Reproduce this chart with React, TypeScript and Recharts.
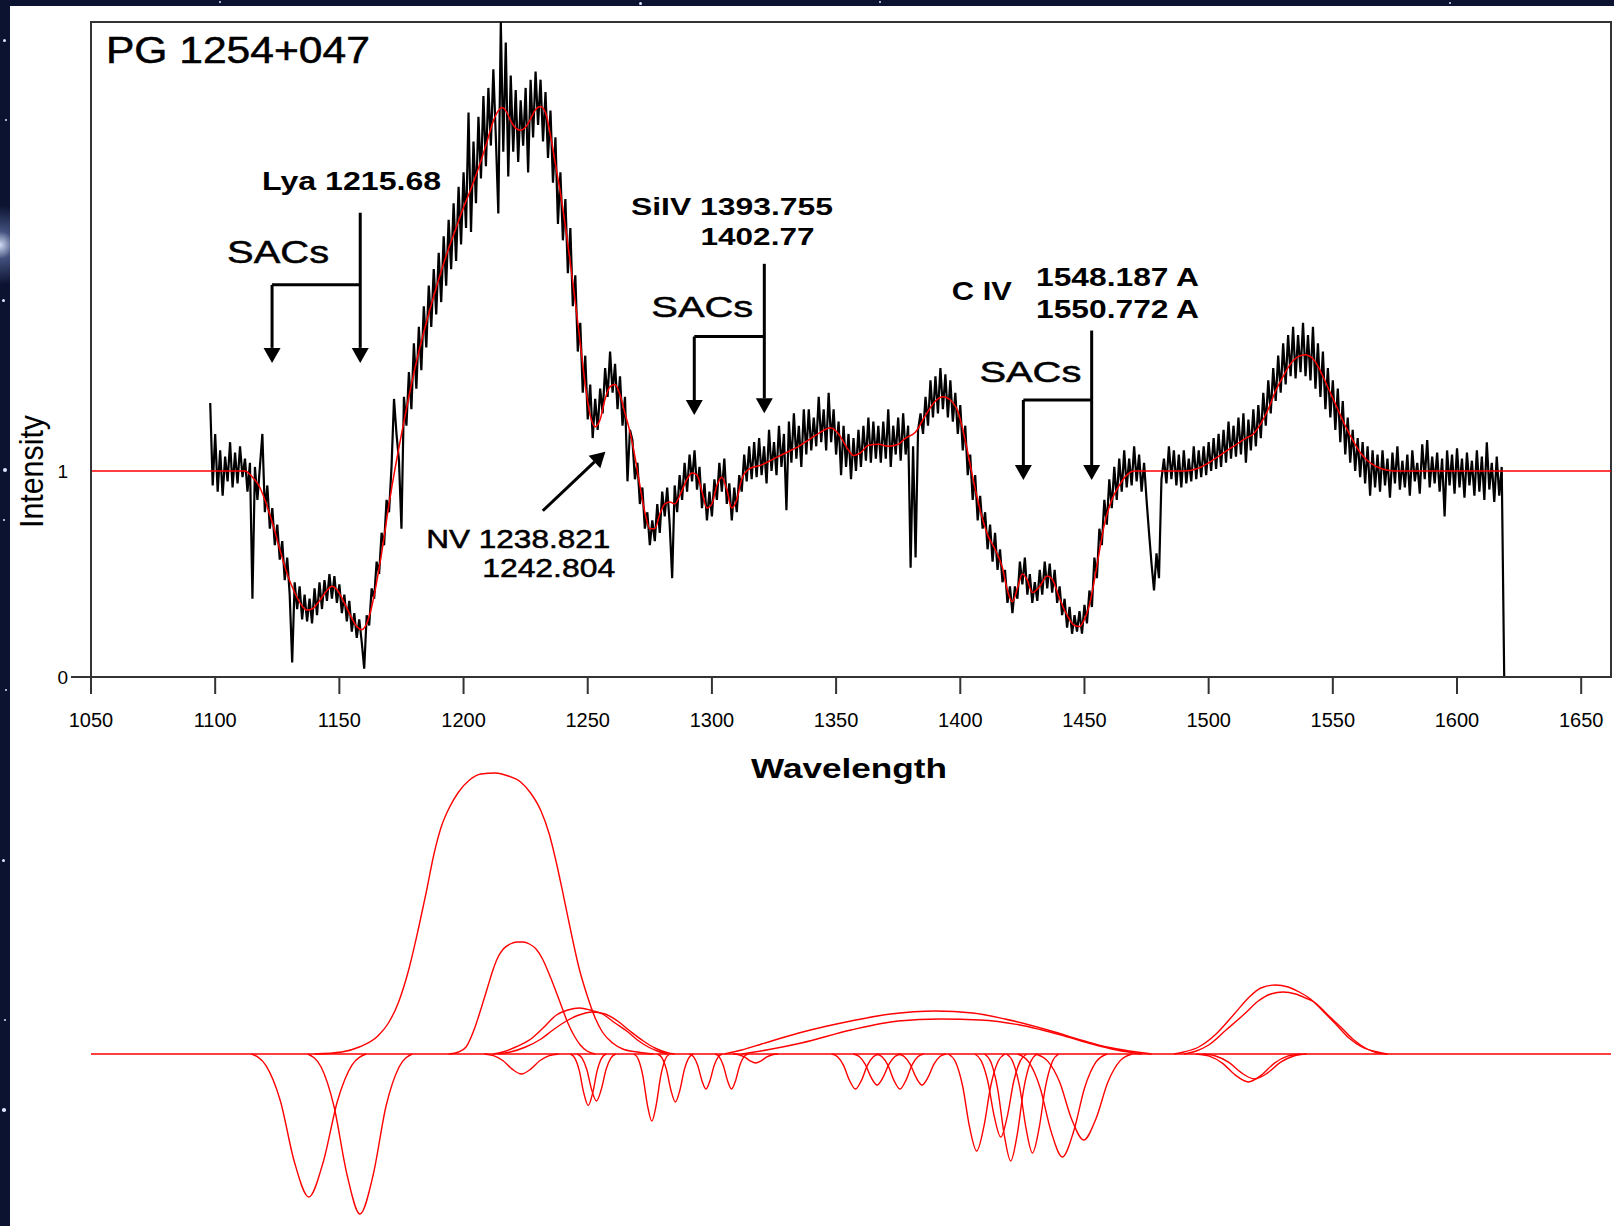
import React from 'react';
import {
  ComposedChart,
  Line,
  XAxis,
  YAxis,
  ReferenceLine,
  ReferenceDot,
  ReferenceArea,
} from 'recharts';

// ---------------- axes ----------------
const X_TICKS = [1050, 1100, 1150, 1200, 1250, 1300, 1350, 1400, 1450, 1500, 1550, 1600, 1650];
const X_DOMAIN = [1050, 1662];
const Y_TICKS = [0, 1];
const Y_DOMAIN = [0, 3.18];
const COMP_DOMAIN = [-1.72, 2.94];

// ---------------- observed spectrum (1 A sampling, starting at 1098 A) ----------------
const SPEC_START = 1098;
const SPEC_1098 = [
  1.33, 0.93, 1.18, 0.90, 1.10, 0.88, 1.07, 0.95, 1.14, 0.92,
  1.09, 0.94, 1.12, 0.97, 1.06, 0.90, 1.04, 0.38, 1.02, 0.86,
  1.02, 1.18, 0.80, 0.93, 0.72, 0.82, 0.64, 0.74, 0.57, 0.66,
  0.47, 0.58, 0.40, 0.07, 0.46, 0.33, 0.44, 0.28, 0.40, 0.27,
  0.38, 0.26, 0.43, 0.30, 0.46, 0.33, 0.47, 0.37, 0.50, 0.38,
  0.49, 0.36, 0.45, 0.31, 0.40, 0.27, 0.37, 0.22, 0.31, 0.19,
  0.28, 0.17, 0.04, 0.30, 0.25, 0.43, 0.38, 0.56, 0.50, 0.70,
  0.64, 0.86, 0.80, 1.02, 1.35, 1.18, 1.05, 0.72, 1.36, 1.22,
  1.48, 1.30, 1.62, 1.40, 1.70, 1.49, 1.80, 1.60, 1.90, 1.70,
  1.98, 1.76, 2.06, 1.82, 2.14, 1.90, 2.22, 1.98, 2.30, 2.02,
];
const SPEC_1198 = [
  2.38, 2.10, 2.45, 2.18, 2.74, 2.16, 2.60, 2.30, 2.72, 2.42,
  2.82, 2.48, 2.86, 2.58, 2.95, 2.62, 2.25, 3.18, 2.55, 3.08,
  2.43, 2.92, 2.55, 2.85, 2.50, 2.80, 2.58, 2.86, 2.45, 2.90,
  2.62, 2.94, 2.68, 2.90, 2.60, 2.84, 2.52, 2.75, 2.40, 2.62,
  2.20, 2.45, 2.12, 2.32, 1.96, 2.18, 1.80, 1.95, 1.58, 1.72,
  1.38, 1.56, 1.25, 1.42, 1.16, 1.35, 1.20, 1.40, 1.28, 1.50,
  1.36, 1.58, 1.38, 1.52, 1.30, 1.46, 1.22, 1.36, 0.95, 1.20,
  1.15, 0.96, 1.04, 0.84, 0.92, 0.72, 0.80, 0.64, 0.76, 0.66,
  0.84, 0.70, 0.90, 0.78, 0.92, 0.74, 0.48, 0.93, 0.80, 0.98,
  0.86, 1.04, 0.90, 1.08, 0.95, 1.10, 0.91, 1.02, 0.82, 0.94,
];
const SPEC_1298 = [
  0.76, 0.90, 0.78, 0.96, 0.86, 1.04, 0.90, 1.06, 0.84, 0.94,
  0.76, 0.92, 0.80, 0.98, 0.90, 1.08, 0.95, 1.12, 0.96, 1.14,
  0.97, 1.16, 0.98, 1.12, 0.94, 1.20, 1.00, 1.14, 0.98, 1.22,
  1.02, 1.18, 0.81, 1.24, 1.04, 1.28, 1.06, 1.22, 1.02, 1.30,
  1.08, 1.30, 1.10, 1.26, 1.12, 1.36, 1.14, 1.30, 1.10, 1.38,
  1.14, 1.30, 1.08, 1.24, 0.98, 1.22, 1.02, 1.18, 0.96, 1.16,
  1.00, 1.20, 1.02, 1.22, 1.05, 1.26, 1.04, 1.24, 1.06, 1.22,
  1.04, 1.24, 1.06, 1.30, 1.02, 1.22, 1.08, 1.26, 1.05, 1.28,
  1.08, 1.22, 0.53, 1.12, 0.58, 1.20, 1.28, 1.18, 1.36, 1.22,
  1.44, 1.26, 1.46, 1.28, 1.50, 1.30, 1.47, 1.26, 1.44, 1.24,
];
const SPEC_1398 = [
  1.38, 1.18, 1.32, 1.10, 1.22, 0.98, 1.08, 0.86, 0.98, 0.76,
  0.88, 0.72, 0.80, 0.62, 0.74, 0.56, 0.70, 0.52, 0.62, 0.46,
  0.52, 0.36, 0.44, 0.31, 0.44, 0.38, 0.56, 0.45, 0.58, 0.40,
  0.50, 0.36, 0.46, 0.37, 0.52, 0.40, 0.56, 0.43, 0.55, 0.41,
  0.52, 0.36, 0.44, 0.30, 0.38, 0.24, 0.34, 0.21, 0.30, 0.22,
  0.32, 0.21, 0.35, 0.26, 0.42, 0.34, 0.58, 0.48, 0.72, 0.64,
  0.86, 0.74, 0.96, 0.82, 1.02, 0.86, 1.06, 0.90, 1.10, 0.92,
  1.06, 0.93, 1.12, 0.95, 1.08, 0.90, 1.04, 0.86, 0.70, 0.55,
  0.42, 0.60, 0.48, 0.96, 1.06, 0.94, 1.12, 0.96, 1.10, 0.93,
  1.08, 0.92, 1.10, 0.94, 1.06, 0.95, 1.12, 0.96, 1.10, 0.97,
];
const SPEC_1498 = [
  1.12, 0.98, 1.14, 1.00, 1.16, 1.01, 1.18, 1.02, 1.20, 1.04,
  1.24, 1.06, 1.22, 1.07, 1.26, 1.08, 1.28, 1.04, 1.25, 1.10,
  1.30, 1.12, 1.32, 1.16, 1.38, 1.22, 1.44, 1.28, 1.50, 1.34,
  1.56, 1.38, 1.62, 1.42, 1.66, 1.46, 1.70, 1.45, 1.66, 1.48,
  1.72, 1.46, 1.66, 1.44, 1.70, 1.40, 1.62, 1.36, 1.58, 1.30,
  1.50, 1.26, 1.44, 1.20, 1.40, 1.14, 1.34, 1.08, 1.26, 1.04,
  1.20, 1.00, 1.16, 0.97, 1.14, 0.94, 1.12, 0.88, 1.10, 0.92,
  1.08, 0.90, 1.10, 0.93, 1.06, 0.87, 1.09, 0.94, 1.12, 0.91,
  1.05, 0.92, 1.08, 0.88, 1.10, 0.95, 1.04, 0.89, 1.13, 0.96,
  1.15, 0.92, 1.07, 0.94, 1.09, 0.90, 1.06, 0.78, 1.10, 0.93,
];
const SPEC_1598 = [
  1.08, 0.89, 1.11, 0.92, 1.06, 0.87, 1.09, 0.93, 1.05, 0.88,
  1.10, 0.90, 1.07, 0.86, 1.14, 0.91, 1.04, 0.85, 1.07, 0.88,
  1.02, 0,
];

// ---------------- model fit (red) ----------------
const FIT = [
  [1050, 1], [1108, 1], [1112, 1.0], [1115, 0.97], [1118, 0.92], [1120, 0.86], [1123, 0.75],
  [1126, 0.62], [1129, 0.5], [1132, 0.41], [1135, 0.345], [1137, 0.325], [1139, 0.33], [1142, 0.37],
  [1145, 0.42], [1147, 0.44], [1149, 0.425], [1152, 0.36], [1155, 0.285], [1157, 0.245], [1159, 0.23],
  [1161, 0.26], [1163, 0.34], [1165, 0.46], [1167, 0.6], [1170, 0.84], [1173, 1.05], [1176, 1.24],
  [1179, 1.42], [1182, 1.58], [1185, 1.72], [1188, 1.85], [1191, 1.97], [1194, 2.08], [1197, 2.18],
  [1200, 2.28], [1203, 2.37], [1206, 2.47], [1209, 2.58], [1212, 2.7], [1214, 2.75], [1215.5, 2.765],
  [1217, 2.75], [1219, 2.7], [1221, 2.665], [1223, 2.655], [1225, 2.67], [1227, 2.71], [1229, 2.755],
  [1231, 2.77], [1233, 2.74], [1235, 2.63], [1237, 2.49], [1239, 2.35], [1241, 2.19], [1243, 2.01],
  [1245, 1.82], [1247, 1.62], [1249, 1.42], [1251, 1.27], [1253, 1.215], [1255, 1.25], [1257, 1.35],
  [1259, 1.41], [1261, 1.42], [1263, 1.37], [1265, 1.28], [1267, 1.19], [1269, 1.07], [1271, 0.93],
  [1273, 0.8], [1275, 0.72], [1277, 0.72], [1279, 0.79], [1281, 0.84], [1283, 0.85], [1285, 0.84],
  [1287, 0.88], [1290, 0.96], [1292, 0.99], [1294, 0.98], [1296, 0.9], [1298, 0.82], [1300, 0.84],
  [1302, 0.93], [1304, 0.97], [1306, 0.91], [1308, 0.82], [1310, 0.86], [1312, 0.96], [1315, 1.01],
  [1320, 1.03], [1325, 1.06], [1330, 1.09], [1335, 1.12], [1340, 1.16], [1344, 1.19], [1347.5, 1.21],
  [1351, 1.18], [1354, 1.12], [1357, 1.075], [1360, 1.09], [1363, 1.125], [1367, 1.13], [1371, 1.12],
  [1375, 1.13], [1378, 1.16], [1382, 1.19], [1386, 1.27], [1390, 1.34], [1393, 1.36], [1396, 1.345],
  [1399, 1.29], [1402, 1.15], [1405, 0.97], [1408, 0.81], [1411, 0.69], [1414, 0.62], [1417, 0.53],
  [1419, 0.42], [1421, 0.365], [1423, 0.43], [1425, 0.5], [1427, 0.47], [1429, 0.41], [1432, 0.44],
  [1435, 0.49], [1437, 0.475], [1440, 0.38], [1443, 0.3], [1446, 0.25], [1448, 0.245], [1450, 0.28],
  [1452, 0.35], [1454, 0.47], [1456, 0.61], [1458, 0.74], [1461, 0.86], [1464, 0.93], [1467, 0.98],
  [1470, 1.0], [1480, 1.0], [1490, 1.0], [1495, 1.01], [1500, 1.04], [1505, 1.08], [1510, 1.12],
  [1515, 1.16], [1518, 1.18], [1521, 1.23], [1524, 1.3], [1527, 1.39], [1530, 1.46], [1533, 1.52],
  [1536, 1.555], [1539, 1.565], [1541, 1.555], [1543, 1.53], [1546, 1.46], [1549, 1.38], [1552, 1.3],
  [1555, 1.22], [1558, 1.15], [1561, 1.09], [1564, 1.05], [1567, 1.025], [1570, 1.01], [1575, 1.0],
  [1662, 1.0],
];

// ---------------- fitted components (lower panel) ----------------
const COMP_BASELINE = [[1050, 0], [1662, 0]];
const EM_LYA_BROAD = [
  [1140, 0], [1151, 0.02], [1158, 0.07], [1165.5, 0.18], [1169.5, 0.3], [1173.7, 0.51], [1178, 0.85],
  [1181.8, 1.25], [1185, 1.62], [1188, 1.99], [1191, 2.27], [1194.2, 2.46], [1198, 2.62], [1202.4, 2.74],
  [1207, 2.8], [1212.8, 2.81], [1218, 2.78], [1223, 2.72], [1227, 2.61], [1231.2, 2.43], [1234.5, 2.2],
  [1237.4, 1.91], [1240.5, 1.55], [1243.6, 1.18], [1246.5, 0.86], [1249.7, 0.59], [1253, 0.36],
  [1255.9, 0.22], [1260, 0.11], [1264.1, 0.05], [1270, 0.02], [1276.4, 0],
];
const EM_LYA_NARROW = [
  [1194, 0], [1198, 0.02], [1201, 0.07], [1204.5, 0.26], [1207, 0.45], [1209.6, 0.66], [1211.7, 0.83],
  [1213.7, 0.96], [1216, 1.05], [1218.8, 1.1], [1221.5, 1.12], [1224, 1.12], [1226.5, 1.1], [1229.2, 1.05],
  [1231.8, 0.95], [1234.3, 0.81], [1237, 0.64], [1239.4, 0.48], [1242, 0.31], [1244.6, 0.18], [1247, 0.09],
  [1249.7, 0.03], [1253, 0],
];
const EM_NV_A = [
  [1212, 0], [1215.8, 0.02], [1221, 0.07], [1227.1, 0.15], [1232, 0.26], [1237.4, 0.39], [1242, 0.44],
  [1246.7, 0.46], [1251, 0.44], [1255.9, 0.4], [1261, 0.31], [1266.2, 0.22], [1270, 0.14], [1274.4, 0.07],
  [1278, 0.03], [1282, 0],
];
const EM_NV_B = [
  [1214, 0], [1218.8, 0.02], [1225, 0.07], [1231.2, 0.15], [1236, 0.24], [1241.4, 0.33], [1246.5, 0.39],
  [1251.7, 0.42], [1257, 0.4], [1262, 0.33], [1267, 0.23], [1272.4, 0.13], [1277, 0.06], [1282.5, 0.01],
  [1285, 0],
];
const EM_SIIV_A = [
  [1305, 0], [1312, 0.04], [1320, 0.1], [1335, 0.21], [1356, 0.33], [1372, 0.4], [1390, 0.43],
  [1405, 0.41], [1418, 0.35], [1438, 0.22], [1450, 0.13], [1459, 0.07], [1468, 0.03], [1477, 0],
];
const EM_SIIV_B = [
  [1312, 0], [1322, 0.04], [1336, 0.11], [1356, 0.24], [1375, 0.33], [1392, 0.35], [1408, 0.34],
  [1424, 0.29], [1442, 0.18], [1453, 0.1], [1463, 0.04], [1473, 0],
];
const EM_CIV_A = [
  [1486, 0], [1490, 0.02], [1496, 0.07], [1503, 0.2], [1510.3, 0.4], [1516, 0.56], [1521, 0.66],
  [1526.8, 0.69], [1532, 0.67], [1536.5, 0.62], [1541, 0.55], [1546, 0.43], [1551.5, 0.29],
  [1556.5, 0.16], [1561.7, 0.07], [1568, 0.02], [1572, 0],
];
const EM_CIV_B = [
  [1490, 0], [1495, 0.03], [1500, 0.09], [1507, 0.24], [1514.4, 0.4], [1520, 0.53], [1525, 0.6],
  [1530, 0.62], [1535, 0.6], [1539, 0.56], [1543, 0.51], [1548, 0.39], [1553.6, 0.26], [1558.5, 0.14],
  [1563.8, 0.05], [1568, 0.01], [1572, 0],
];
const ABS_A = [[1114.6, 0], [1120.4, -0.114], [1126.2, -0.465], [1131.9, -1.08], [1137.7, -1.43], [1143.5, -1.08], [1149.3, -0.465], [1155.0, -0.114], [1160.8, 0]];
const ABS_B = [[1137.3, 0], [1142.6, -0.128], [1147.8, -0.52], [1153.1, -1.21], [1158.3, -1.6], [1163.6, -1.21], [1168.8, -0.52], [1174.1, -0.128], [1179.3, 0]];
const ABS_C = [[1208.3, 0], [1212.05, -0.016], [1215.8, -0.065], [1219.55, -0.151], [1223.3, -0.2], [1227.05, -0.151], [1230.8, -0.065], [1234.55, -0.016], [1238.3, 0]];
const ABS_D = [[1243.0, 0], [1244.8, -0.041], [1246.6, -0.167], [1248.4, -0.389], [1250.2, -0.515], [1252.0, -0.389], [1253.8, -0.167], [1255.6, -0.041], [1257.4, 0]];
const ABS_E = [[1245.7, 0], [1247.65, -0.038], [1249.6, -0.153], [1251.55, -0.355], [1253.5, -0.47], [1255.45, -0.355], [1257.4, -0.153], [1259.35, -0.038], [1261.3, 0]];
const ABS_F = [[1268.6, 0], [1270.4, -0.054], [1272.2, -0.218], [1274.0, -0.506], [1275.8, -0.67], [1277.6, -0.506], [1279.4, -0.218], [1281.2, -0.054], [1283.0, 0]];
const ABS_G = [[1278.1, 0], [1279.9, -0.038], [1281.7, -0.156], [1283.5, -0.362], [1285.3, -0.48], [1287.1, -0.362], [1288.9, -0.156], [1290.7, -0.038], [1292.5, 0]];
const ABS_H = [[1291.0, 0], [1292.65, -0.028], [1294.3, -0.114], [1295.95, -0.264], [1297.6, -0.35], [1299.25, -0.264], [1300.9, -0.114], [1302.55, -0.028], [1304.2, 0]];
const ABS_I = [[1301.3, 0], [1302.95, -0.028], [1304.6, -0.114], [1306.25, -0.264], [1307.9, -0.35], [1309.55, -0.264], [1311.2, -0.114], [1312.85, -0.028], [1314.5, 0]];
const ABS_J = [[1308.6, 0], [1310.85, -0.007], [1313.1, -0.029], [1315.35, -0.068], [1317.6, -0.09], [1319.85, -0.068], [1322.1, -0.029], [1324.35, -0.007], [1326.6, 0]];
const ABS_K = [[1348.2, 0], [1350.6, -0.028], [1353.0, -0.114], [1355.4, -0.264], [1357.8, -0.35], [1360.2, -0.264], [1362.6, -0.114], [1365.0, -0.028], [1367.4, 0]];
const ABS_L = [[1356.9, 0], [1359.3, -0.025], [1361.7, -0.101], [1364.1, -0.234], [1366.5, -0.31], [1368.9, -0.234], [1371.3, -0.101], [1373.7, -0.025], [1376.1, 0]];
const ABS_M = [[1366.1, 0], [1368.5, -0.028], [1370.9, -0.114], [1373.3, -0.264], [1375.7, -0.35], [1378.1, -0.264], [1380.5, -0.114], [1382.9, -0.028], [1385.3, 0]];
const ABS_N = [[1375.0, 0], [1377.4, -0.025], [1379.8, -0.101], [1382.2, -0.234], [1384.6, -0.31], [1387.0, -0.234], [1389.4, -0.101], [1391.8, -0.025], [1394.2, 0]];
const ABS_O = [[1395.2, 0], [1398.05, -0.078], [1400.9, -0.315], [1403.75, -0.732], [1406.6, -0.97], [1409.45, -0.732], [1412.3, -0.315], [1415.15, -0.078], [1418.0, 0]];
const ABS_P = [[1405.8, 0], [1408.4, -0.066], [1411.05, -0.27], [1413.7, -0.627], [1416.3, -0.83], [1418.9, -0.627], [1421.55, -0.27], [1424.2, -0.066], [1426.8, 0]];
const ABS_Q = [[1409.8, 0], [1412.4, -0.086], [1415.05, -0.348], [1417.7, -0.808], [1420.3, -1.07], [1422.9, -0.808], [1425.55, -0.348], [1428.2, -0.086], [1430.8, 0]];
const ABS_R = [[1418.6, 0], [1421.2, -0.079], [1423.85, -0.322], [1426.5, -0.747], [1429.1, -0.99], [1431.7, -0.747], [1434.35, -0.322], [1437.0, -0.079], [1439.6, 0]];
const ABS_S = [[1423.1, 0], [1427.6, -0.082], [1432.1, -0.335], [1436.6, -0.778], [1441.1, -1.03], [1445.6, -0.778], [1450.1, -0.335], [1454.6, -0.082], [1459.1, 0]];
const ABS_T = [[1430.2, 0], [1435.1, -0.069], [1440.0, -0.28], [1444.8, -0.649], [1449.7, -0.86], [1454.6, -0.649], [1459.45, -0.28], [1464.3, -0.069], [1469.2, 0]];
const ABS_U1 = [[1495, 0], [1500.25, -0.022], [1505.5, -0.091], [1510.75, -0.211], [1516, -0.28], [1521.25, -0.211], [1526.5, -0.091], [1531.75, -0.022], [1537, 0]];
const ABS_U2 = [[1497.5, 0], [1502.75, -0.02], [1508, -0.081], [1513.25, -0.189], [1518.5, -0.25], [1523.75, -0.189], [1529, -0.081], [1534.25, -0.02], [1539.5, 0]];

const COMPONENTS = [
  COMP_BASELINE, EM_LYA_BROAD, EM_LYA_NARROW, EM_NV_A, EM_NV_B, EM_SIIV_A, EM_SIIV_B, EM_CIV_A, EM_CIV_B,
  ABS_A, ABS_B, ABS_C, ABS_D, ABS_E, ABS_F, ABS_G, ABS_H, ABS_I, ABS_J, ABS_K, ABS_L, ABS_M, ABS_N,
  ABS_O, ABS_P, ABS_Q, ABS_R, ABS_S, ABS_T, ABS_U1, ABS_U2,
];

// ---------------- annotations (data coordinates: wavelength, intensity) ----------------
const ANNOT_TEXT = [
  { text: 'PG 1254+047', wl: 1056.0, v: 2.983, size: 36, bold: false, len: 264 },
  { text: 'Lya 1215.68', wl: 1118.9, v: 2.366, size: 26, bold: true, len: 179 },
  { text: 'SACs', wl: 1104.8, v: 2.011, size: 32, bold: false, len: 102 },
  { text: 'SiIV 1393.755', wl: 1267.4, v: 2.245, size: 23, bold: true, len: 202 },
  { text: '1402.77', wl: 1295.4, v: 2.099, size: 23, bold: true, len: 114 },
  { text: 'SACs', wl: 1275.6, v: 1.75, size: 30, bold: false, len: 102 },
  { text: 'C IV', wl: 1396.6, v: 1.831, size: 26, bold: true, len: 60 },
  { text: '1548.187 A', wl: 1430.5, v: 1.896, size: 26, bold: true, len: 163 },
  { text: '1550.772 A', wl: 1430.5, v: 1.742, size: 26, bold: true, len: 163 },
  { text: 'SACs', wl: 1407.7, v: 1.434, size: 30, bold: false, len: 102 },
  { text: 'NV 1238.821', wl: 1185.0, v: 0.627, size: 26, bold: false, len: 184 },
  { text: '1242.804', wl: 1207.5, v: 0.486, size: 26, bold: false, len: 133 },
];
const ARROWS = [
  { from: [1158.4, 2.254], to: [1158.4, 1.525] },
  { from: [1122.9, 1.904], to: [1122.9, 1.525] },
  { from: [1321.1, 2.006], to: [1321.1, 1.28] },
  { from: [1292.9, 1.653], to: [1292.9, 1.272] },
  { from: [1452.9, 1.682], to: [1452.9, 0.956] },
  { from: [1425.4, 1.345], to: [1425.4, 0.956] },
  { from: [1231.9, 0.807], to: [1257.1, 1.094] },
];
const BARS = [
  { from: [1122.9, 1.904], to: [1158.4, 1.904] },
  { from: [1292.9, 1.653], to: [1321.1, 1.653] },
  { from: [1425.4, 1.345], to: [1452.9, 1.345] },
];

const FONT = '"Liberation Sans", Arial, Helvetica, sans-serif';
const AXIS_COLOR = '#333';

const toPts = (arr: number[][]) => arr.map(([x, y]) => ({ x, y }));
const SPECTRUM = [...SPEC_1098, ...SPEC_1198, ...SPEC_1298, ...SPEC_1398, ...SPEC_1498, ...SPEC_1598].map(
  (y, i) => ({ x: SPEC_START + i, y })
);
const FIT_PTS = toPts(FIT);

const ArrowShape = (props: any) => {
  const { x1, y1, x2, y2 } = props;
  const dx = x2 - x1;
  const dy = y2 - y1;
  const len = Math.hypot(dx, dy) || 1;
  const ux = dx / len;
  const uy = dy / len;
  const L = 15;
  const W = 8.5;
  const bx = x2 - ux * L;
  const by = y2 - uy * L;
  const px = -uy;
  const py = ux;
  return (
    <g>
      <line x1={x1} y1={y1} x2={bx} y2={by} stroke="#000" strokeWidth={3} />
      <polygon
        points={`${x2},${y2} ${bx + px * W},${by + py * W} ${bx - px * W},${by - py * W}`}
        fill="#000"
      />
    </g>
  );
};

const YTick = (props: any) => {
  const { x, y, payload } = props;
  return (
    <g>
      {payload.value === 0 && (
        <line x1={x} y1={y} x2={x + 20} y2={y} stroke={AXIS_COLOR} strokeWidth={2} />
      )}
      <text x={x - 3} y={y} dy="0.36em" textAnchor="end" fontSize={19} fontFamily={FONT} fill="#000">
        {payload.value}
      </text>
    </g>
  );
};

const STARS = [
  [4, 40, 1.5], [6, 120, 1], [3, 300, 1.5], [5, 470, 2], [4, 520, 1], [6, 690, 1.2], [3, 860, 1.5],
  [5, 1020, 1], [4, 1110, 1.8], [220, 2, 1], [640, 3, 1.5], [880, 2, 1], [1450, 3, 1.2],
];

export default function App() {
  return (
    <div
      style={{
        position: 'absolute',
        left: 0,
        top: 0,
        width: 1614,
        height: 1226,
        overflow: 'hidden',
        background:
          'radial-gradient(circle at 0px 245px, rgba(220,230,255,0.95) 0px, rgba(120,140,200,0.5) 14px, rgba(20,30,70,0) 40px), #0c1330',
      }}
    >
      {STARS.map(([x, y, r], i) => (
        <div
          key={i}
          style={{
            position: 'absolute',
            left: x - r,
            top: y - r,
            width: r * 2,
            height: r * 2,
            borderRadius: '50%',
            background: '#dfe6ff',
          }}
        />
      ))}
      <div style={{ position: 'absolute', left: 10, top: 6, width: 1604, height: 1220, background: '#fff' }} />

      {/* upper panel: spectrum + fit */}
      <div style={{ position: 'absolute', left: 0, top: 0 }}>
        <ComposedChart width={1614} height={800} margin={{ top: 22, right: 3, bottom: 0, left: 0 }}>
          <XAxis
            type="number"
            dataKey="x"
            domain={X_DOMAIN}
            ticks={X_TICKS}
            allowDataOverflow
            interval={0}
            height={123}
            tickSize={17}
            tickMargin={19}
            axisLine={{ stroke: AXIS_COLOR, strokeWidth: 2 }}
            tickLine={{ stroke: AXIS_COLOR, strokeWidth: 2 }}
            tick={{ fill: '#000', fontSize: 20, fontFamily: FONT }}
          />
          <YAxis
            type="number"
            dataKey="y"
            domain={Y_DOMAIN}
            ticks={Y_TICKS}
            allowDataOverflow
            interval={0}
            width={91}
            tickSize={20}
            tickMargin={0}
            tickLine={false}
            axisLine={{ stroke: AXIS_COLOR, strokeWidth: 2 }}
            tick={YTick}
          />
          <ReferenceArea
            x1={X_DOMAIN[0]}
            x2={X_DOMAIN[1]}
            y1={Y_DOMAIN[0]}
            y2={Y_DOMAIN[1]}
            fill="none"
            fillOpacity={0}
            stroke={AXIS_COLOR}
            strokeWidth={2}
            ifOverflow="visible"
          />
          <Line
            data={SPECTRUM}
            dataKey="y"
            type="linear"
            stroke="#000"
            strokeWidth={2.2}
            dot={false}
            activeDot={false}
            isAnimationActive={false}
          />
          <Line
            data={FIT_PTS}
            dataKey="y"
            type="monotone"
            stroke="#ff0000"
            strokeWidth={1.5}
            dot={false}
            activeDot={false}
            isAnimationActive={false}
          />
          {BARS.map((b, i) => (
            <ReferenceLine
              key={'bar' + i}
              segment={[
                { x: b.from[0], y: b.from[1] },
                { x: b.to[0], y: b.to[1] },
              ]}
              stroke="#000"
              strokeWidth={3}
              ifOverflow="visible"
            />
          ))}
          {ARROWS.map((a, i) => (
            <ReferenceLine
              key={'arr' + i}
              segment={[
                { x: a.from[0], y: a.from[1] },
                { x: a.to[0], y: a.to[1] },
              ]}
              ifOverflow="visible"
              shape={ArrowShape}
            />
          ))}
          {ANNOT_TEXT.map((t, i) => (
            <ReferenceDot
              key={'txt' + i}
              x={t.wl}
              y={t.v}
              r={0}
              ifOverflow="visible"
              shape={(p: any) => (
                <text
                  x={p.cx}
                  y={p.cy}
                  fontSize={t.size}
                  fontWeight={t.bold ? 'bold' : 'normal'}
                  fontFamily={FONT}
                  fill="#000"
                  stroke={t.bold ? 'none' : '#000'}
                  strokeWidth={t.bold ? 0 : 0.5}
                  textLength={t.len}
                  lengthAdjust="spacingAndGlyphs"
                >
                  {t.text}
                </text>
              )}
            />
          ))}
        </ComposedChart>
      </div>

      {/* lower panel: individual fitted components */}
      <div style={{ position: 'absolute', left: 0, top: 760 }}>
        <ComposedChart width={1614} height={466} margin={{ top: 0, right: 3, bottom: 0, left: 91 }}>
          <XAxis type="number" dataKey="x" domain={X_DOMAIN} allowDataOverflow hide />
          <YAxis type="number" dataKey="y" domain={COMP_DOMAIN} allowDataOverflow hide />
          {COMPONENTS.map((c, i) => (
            <Line
              key={'c' + i}
              data={toPts(c)}
              dataKey="y"
              type="monotone"
              stroke="#ff0000"
              strokeWidth={1.4}
              dot={false}
              activeDot={false}
              isAnimationActive={false}
            />
          ))}
        </ComposedChart>
      </div>

      {/* axis titles */}
      <svg
        width={1614}
        height={1226}
        style={{ position: 'absolute', left: 0, top: 0, pointerEvents: 'none' }}
      >
        <text
          x={849}
          y={778}
          textAnchor="middle"
          fontSize={28}
          fontWeight="bold"
          fontFamily={FONT}
          fill="#000"
          textLength={196}
          lengthAdjust="spacingAndGlyphs"
        >
          Wavelength
        </text>
        <text
          transform="translate(43,471.5) scale(1.1,1) rotate(-90)"
          textAnchor="middle"
          fontSize={30}
          fontFamily={FONT}
          fill="#000"
          textLength={113}
          lengthAdjust="spacingAndGlyphs"
        >
          Intensity
        </text>
      </svg>
    </div>
  );
}
